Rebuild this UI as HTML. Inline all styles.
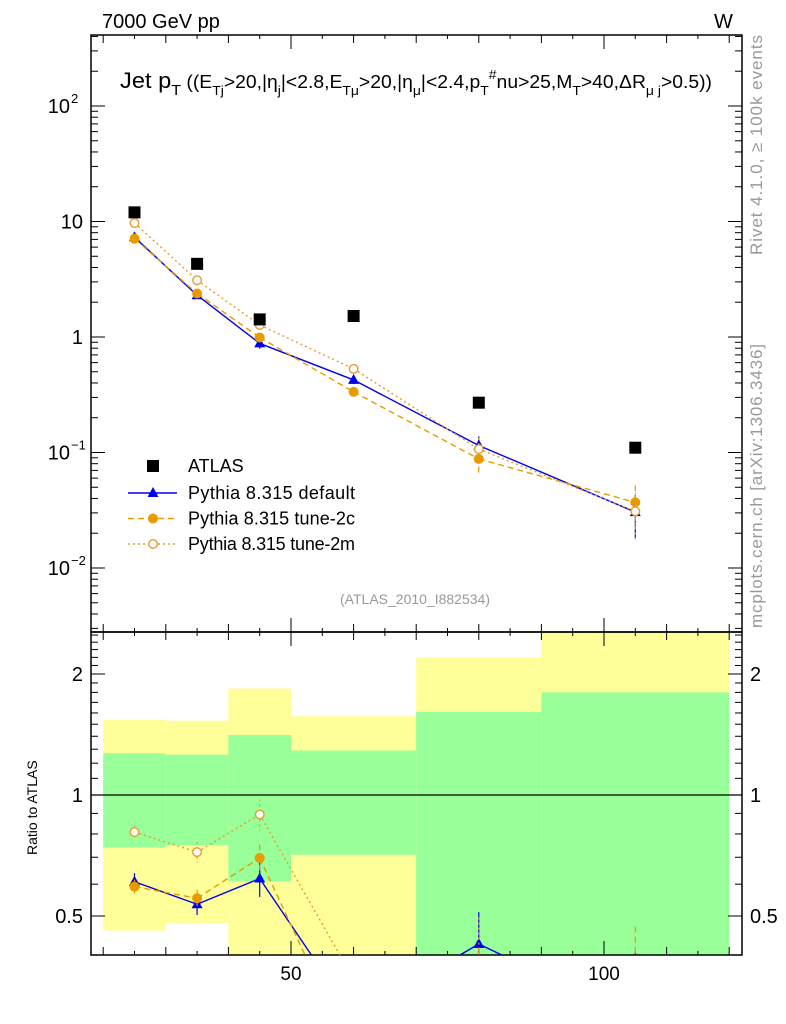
<!DOCTYPE html>
<html><head><meta charset="utf-8"><style>
html,body{margin:0;padding:0;background:#fff;width:786px;height:1024px;overflow:hidden;position:relative}
svg{display:block}
svg text{font-family:"Liberation Sans",sans-serif}
</style></head><body>
<svg id="c" width="786" height="1024" style="position:absolute;left:0;top:0" xmlns="http://www.w3.org/2000/svg"></svg>
<script>
const xCenters=[25,35,45,60,80,105];
const xEdges=[20,30,40,50,70,90,120];
const atlas=[12.0,4.3,1.42,1.52,0.27,0.11];
const pyDefault=[7.3,2.3,0.88,0.425,0.115,0.0305];
const pyDefaultErr=[0.05,0.06,0.1,0.08,0.2,0.4];
const py2c=[7.1,2.38,0.99,0.335,0.088,0.037];
const py2cErr=[0.04,0.05,0.08,0.1,0.28,0.4];
const py2m=[9.7,3.1,1.27,0.53,0.107,0.031];
const py2mErr=[0.04,0.06,0.09,0.1,0.25,0.45];
const greenUp=[1.27,1.26,1.41,1.29,1.61,1.80];
const greenDn=[0.74,0.75,0.61,0.71,0.36,0.36];
const yellowUp=[1.54,1.53,1.84,1.57,2.2,2.6];
const yellowDn=[0.46,0.48,0.36,0.38,0.36,0.36];
const xTickLabels=[50,100];
const yMainLabels=[["10","−2",-2],["10","−1",-1],["1","",0],["10","",1],["10","2",2]];
const yRatioLabels=[0.5,1,2];

const NS="http://www.w3.org/2000/svg";
const svg=document.getElementById('c');
const L=91,R=742,T=35,MB=632,RB=955;
const X=v=>291+(v-50)*6.26;
const Ym=v=>337-Math.log10(v)*115.5;
const Yr=v=>795-Math.log2(v)*121;
const cl=(y,a,b)=>Math.max(a,Math.min(b,y));
function el(tag,attrs,parent){const e=document.createElementNS(NS,tag);for(const k in attrs)e.setAttribute(k,attrs[k]);(parent||svg).appendChild(e);return e;}
// clip a segment to vertical range [a,b]; returns null if outside
function clipSeg(x1,y1,x2,y2,a,b){
  let t0=0,t1=1;const dy=y2-y1;
  const test=(p,q)=>{if(p==0)return q>=0;const r=q/p;if(p<0){if(r>t1)return false;if(r>t0)t0=r;}else{if(r<t0)return false;if(r<t1)t1=r;}return true;};
  if(!test(-dy,y1-a))return null;if(!test(dy,b-y1))return null;
  return [x1+(x2-x1)*t0,y1+dy*t0,x1+(x2-x1)*t1,y1+dy*t1];
}

const bands=el('g',{});


for(let i=0;i<xCenters.length;i++){
  const x0=X(xEdges[i]),x1=X(xEdges[i+1]);
  const yu=cl(Yr(yellowUp[i]),MB,RB),yd=cl(Yr(yellowDn[i]),MB,RB);
  let r=el('rect',{x:x0,y:yu,width:x1-x0,height:yd-yu,fill:'#ffff99'},bands);
  
  
  const gu=cl(Yr(greenUp[i]),MB,RB),gd=cl(Yr(greenDn[i]),MB,RB);
  r=el('rect',{x:x0,y:gu,width:x1-x0,height:gd-gu,fill:'#99ff99'},bands);
  
  
}
el('line',{x1:L,x2:R,y1:Yr(1),y2:Yr(1),stroke:'#000','stroke-width':1.3});

let f=el('rect',{x:L,y:T,width:R-L,height:MB-T,fill:'none',stroke:'#000','stroke-width':1.5});


f=el('rect',{x:L,y:MB,width:R-L,height:RB-MB,fill:'none',stroke:'#000','stroke-width':1.5});



for(let v=20;v<=120;v+=5){
  const len=v%50==0?14:(v%10==0?8:4);const x=X(v);
  for(const [yb,dir] of [[T,1],[MB,-1],[MB,1],[RB,-1]]) el('line',{x1:x,x2:x,y1:yb,y2:yb+dir*len,stroke:'#000','stroke-width':1});
}
xTickLabels.forEach(v=>{const t=el('text',{x:X(v),y:980,'font-size':19,'text-anchor':'middle'});t.textContent=v;

});

for(let d=-3;d<=2;d++){for(let m=1;m<=9;m++){const v=m*Math.pow(10,d);const y=Ym(v);if(y<T||y>MB)continue;
 const len=m==1?14:7;el('line',{x1:L,x2:L+len,y1:y,y2:y,stroke:'#000'});el('line',{x1:R,x2:R-len,y1:y,y2:y,stroke:'#000'});}}
yMainLabels.forEach(([b,e,p])=>{const y=Ym(Math.pow(10,p));const t=el('text',{x:e?70:83,y:y+7,'font-size':20,'text-anchor':'end'});t.textContent=b;
 
 
 if(e){const s=el('text',{x:71,y:y-3,'font-size':13});s.textContent=e;}});
for(let v=0.4;v<=2.6;v+=0.1){const y=Yr(v);if(y<MB||y>RB)continue;const maj=[0.5,1,2].some(q=>Math.abs(q-v)<1e-6);const len=maj?14:7;
 el('line',{x1:L,x2:L+len,y1:y,y2:y,stroke:'#000'});el('line',{x1:R,x2:R-len,y1:y,y2:y,stroke:'#000'});}
yRatioLabels.forEach(v=>{const y=Yr(v)+7;let t=el('text',{x:83,y:y,'font-size':20,'text-anchor':'end'});t.textContent=v;


t=el('text',{x:750,y:y,'font-size':20});t.textContent=v;});

const series=[
 {name:'pythia-default',vals:pyDefault,err:pyDefaultErr,color:'#0000ee',dash:'',mk:'tri'},
 {name:'pythia-tune-2c',vals:py2c,err:py2cErr,color:'#e69b00',dash:'6,4',mk:'dot'},
 {name:'pythia-tune-2m',vals:py2m,err:py2mErr,color:'#e69b33',dash:'2,3',mk:'ring'}];
function marker(g,kind,x,y,c){
 if(kind=='tri')el('path',{d:`M${x},${y-6}L${x+5.5},${y+4}L${x-5.5},${y+4}Z`,fill:c},g);
 else if(kind=='dot')el('circle',{cx:x,cy:y,r:5,fill:c},g);
 else el('circle',{cx:x,cy:y,r:4.3,fill:'#fff',stroke:c,'stroke-width':1.4},g);
}
series.forEach(s=>{
 for(const panel of ['main','ratio']){
  const a=panel=='main'?T:MB,b=panel=='main'?MB:RB;
  const g=el('g',{});
  
  
  const yf=panel=='main'?(i=>Ym(s.vals[i])):(i=>Yr(s.vals[i]/atlas[i]));
  const yv=panel=='main'?(i,k)=>Ym(s.vals[i]*k):(i,k)=>Yr(s.vals[i]*k/atlas[i]);
  for(let i=0;i+1<xCenters.length;i++){
    const c=clipSeg(X(xCenters[i]),yf(i),X(xCenters[i+1]),yf(i+1),a,b);
    if(c)el('line',{x1:c[0],y1:c[1],x2:c[2],y2:c[3],stroke:s.color,'stroke-width':1.4,'stroke-dasharray':s.dash},g);
  }
  xCenters.forEach((x,i)=>{const px=X(x);
   const e1=yv(i,1+s.err[i]),e2=yv(i,1-s.err[i]);
   if(!(e1>b||e2<a))el('line',{x1:px,x2:px,y1:cl(e1,a,b),y2:cl(e2,a,b),stroke:s.color,'stroke-width':1.2,'stroke-dasharray':s.dash},g);
   const y=yf(i);if(y>=a&&y<=b)marker(g,s.mk,px,y,s.color);});
 }
});
const ag=el('g',{});


xCenters.forEach((x,i)=>{el('rect',{x:X(x)-6,y:Ym(atlas[i])-6,width:12,height:12,fill:'#000'},ag);});

const lg=el('g',{});


el('rect',{x:147,y:460,width:12,height:12,fill:'#000'},lg);
let t=el('text',{x:188,y:472,'font-size':18},lg);t.textContent='ATLAS';
series.forEach((s,k)=>{const y=493+k*25.5;
 el('line',{x1:128,x2:177,y1:y,y2:y,stroke:s.color,'stroke-width':1.4,'stroke-dasharray':s.dash},lg);
 marker(lg,s.mk,153,y,s.color);
 const tt=el('text',{x:188,y:y+6,'font-size':18,textLength:[167,167,167][k]},lg);
 tt.textContent=['Pythia 8.315 default','Pythia 8.315 tune-2c','Pythia 8.315 tune-2m'][k];});
</script>
<svg width="786" height="1024" style="position:absolute;left:0;top:0" xmlns="http://www.w3.org/2000/svg">
<text x="102" y="28" font-size="20" font-family="Liberation Sans">7000 GeV pp</text>
<text x="714" y="28" font-size="20" font-family="Liberation Sans">W</text>
<text x="120" y="88" font-size="22" font-family="Liberation Sans" textLength="592" lengthAdjust="spacingAndGlyphs">Jet p<tspan font-size="15" dy="7">T</tspan><tspan dy="-7" font-size="18"> ((E</tspan><tspan font-size="13" dy="7">Tj</tspan><tspan font-size="18" dy="-7">&gt;20,|η</tspan><tspan font-size="13" dy="7">j</tspan><tspan font-size="18" dy="-7">|&lt;2.8,E</tspan><tspan font-size="13" dy="7">Tμ</tspan><tspan font-size="18" dy="-7">&gt;20,|η</tspan><tspan font-size="13" dy="7">μ</tspan><tspan font-size="18" dy="-7">|&lt;2.4,p</tspan><tspan font-size="13" dy="7">T</tspan><tspan font-size="13" dy="-16">#</tspan><tspan font-size="18" dy="9">nu&gt;25,M</tspan><tspan font-size="13" dy="7">T</tspan><tspan font-size="18" dy="-7">&gt;40,ΔR</tspan><tspan font-size="13" dy="7">μ j</tspan><tspan font-size="18" dy="-7">&gt;0.5))</tspan></text>
<text x="415" y="604" font-size="14" fill="#999" text-anchor="middle" font-family="Liberation Sans">(ATLAS_2010_I882534)</text>
<text transform="translate(762,255) rotate(-90)" font-size="17" fill="#999" textLength="220" font-family="Liberation Sans">Rivet 4.1.0, ≥ 100k events</text>
<text transform="translate(762,628) rotate(-90)" font-size="17" fill="#999" textLength="284" font-family="Liberation Sans">mcplots.cern.ch [arXiv:1306.3436]</text>
<text transform="translate(37,855) rotate(-90)" font-size="14" font-family="Liberation Sans">Ratio to ATLAS</text>
</svg>
</body></html>
